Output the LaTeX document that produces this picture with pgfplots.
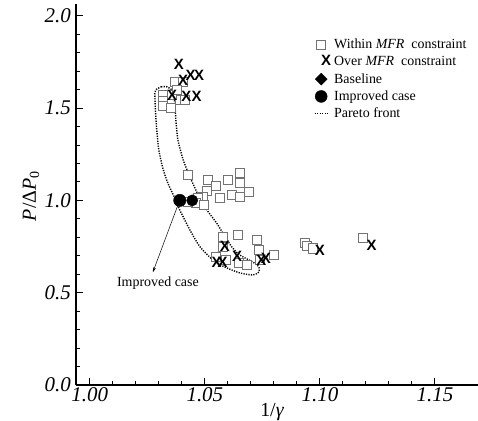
\documentclass[border=0pt]{standalone}
\usepackage{fontspec}
\setmainfont{Liberation Serif}
\setsansfont{Liberation Sans}
\usepackage{pgfplots}
\usepackage{pgfplotstable}
\pgfplotsset{compat=1.18}
\usetikzlibrary{arrows.meta}

\definecolor{sqgray}{gray}{0.45}

% within-constraint designs
\pgfplotstableread{
x y
1.0370 1.643
1.0403 1.643
1.0319 1.571
1.0319 1.540
1.0319 1.511
1.0351 1.499
1.0391 1.544
1.0413 1.544
1.0355 1.570
1.0378 1.598
1.0426 1.138
1.0513 1.111
1.0548 1.078
1.0600 1.111
1.0652 1.148
1.0652 1.094
1.0509 1.051
1.0491 1.018
1.0565 1.013
1.0617 1.029
1.0652 1.018
1.0691 1.046
1.0470 1.013
1.0461 0.986
1.0496 0.975
1.0426 0.991
1.0580 0.803
1.0645 0.813
1.0728 0.786
1.0736 0.731
1.0800 0.704
1.0548 0.692
1.0591 0.677
1.0649 0.663
1.0684 0.650
1.0580 0.749
1.0740 0.680
1.0935 0.768
1.0942 0.753
1.0971 0.740
1.1188 0.795
}\withintab

% designs violating the MFR constraint
\pgfplotstableread{
x y
1.0387 1.737
1.0406 1.652
1.0438 1.679
1.0475 1.679
1.0358 1.570
1.0420 1.562
1.0464 1.562
1.0587 0.749
1.0640 0.695
1.0551 0.664
1.0577 0.664
1.0746 0.677
1.0765 0.686
1.1000 0.727
1.1225 0.755
}\overtab

% outline of the Pareto front region
\pgfplotstableread{
x y
1.0312 1.616
1.0290 1.602
1.0283 1.580
1.0285 1.490
1.0291 1.381
1.0300 1.273
1.0317 1.176
1.0339 1.094
1.0365 1.024
1.0391 0.948
1.0435 0.840
1.0478 0.750
1.0535 0.677
1.0587 0.639
1.0652 0.607
1.0709 0.596
1.0735 0.612
1.0735 0.639
1.0709 0.666
1.0652 0.704
1.0617 0.748
1.0578 0.823
1.0551 0.878
1.0514 0.939
1.0478 1.011
1.0435 1.128
1.0406 1.219
1.0383 1.327
1.0374 1.436
1.0370 1.517
1.0362 1.589
1.0348 1.607
1.0334 1.616
1.0312 1.616
}\paretotab

\begin{document}
\begin{tikzpicture}
\useasboundingbox (-76bp,-36bp) rectangle (402bp,385bp);
\begin{axis}[
  at={(0,0)}, anchor=south west,
  scale only axis, width=402bp, height=381bp,
  xmin=0.994, xmax=1.1687, ymin=0, ymax=2.064,
  axis x line*=bottom, axis y line*=left,
  axis line style={line width=1.6bp, -},
  xtick={1.00,1.05,1.10,1.15}, ytick={0,0.5,1.0,1.5,2.0},
  minor x tick num=4, minor y tick num=4,
  major tick length=7bp, minor tick length=4bp,
  tick align=inside,
  every tick/.style={black, line width=1bp},
  /pgf/number format/assume math mode=true,
  xticklabel style={font=\fontsize{21}{21}\selectfont\itshape, inner sep=2bp,
    /pgf/number format/fixed, /pgf/number format/fixed zerofill,
    /pgf/number format/precision=2},
  yticklabel style={font=\fontsize{21}{21}\selectfont\itshape, inner sep=5bp,
    /pgf/number format/fixed, /pgf/number format/fixed zerofill,
    /pgf/number format/precision=1},
  xlabel={1/\textit{γ}},
  xlabel style={at={(axis description cs:0.488,-0.071)}, anchor=center,
    font=\fontsize{20}{20}\selectfont},
  ylabel={\textit{P}/Δ\textit{P}\textsubscript{0}},
  ylabel style={at={(axis description cs:-0.112,0.496)}, anchor=center,
    font=\fontsize{20}{20}\selectfont},
  legend cell align=left,
  legend style={draw=none, fill=none, inner sep=0pt, outer sep=0pt,
    at={(axis description cs:0.592,0.912)}, anchor=north west,
    font=\fontsize{14}{16}\selectfont,
    nodes={inner sep=0pt, text height=11bp, text depth=3bp},
    row sep=3.3bp, column sep=3bp},
  clip=false,
]
% legend entries
\addlegendimage{legend image code/.code={
  \draw[sqgray, fill=white, line width=0.8bp] (1bp,-4.5bp) rectangle (10bp,4.5bp);}}
\addlegendentry{Within \textit{MFR}\ \ constraint}
\addlegendimage{legend image code/.code={
  \node[inner sep=0pt, font=\fontsize{15}{15}\selectfont\sffamily\bfseries] at (5.5bp,0) {X};}}
\addlegendentry{Over \textit{MFR}\ \ constraint}
\addlegendimage{legend image code/.code={
  \fill[black] (5.5bp,-6bp) -- (11.5bp,0) -- (5.5bp,6bp) -- (-0.5bp,0) -- cycle;}}
\addlegendentry{Baseline}
\addlegendimage{legend image code/.code={
  \fill[black] (5.5bp,0) circle (6bp);}}
\addlegendentry{Improved case}
\addlegendimage{legend image code/.code={
  \draw[black, line width=1.4bp, dash pattern=on 1.2bp off 1.3bp] (-1bp,0) -- (13bp,0);}}
\addlegendentry{Pareto front}

% Pareto front outline
\addplot[black, line width=1.4bp, dash pattern=on 1.2bp off 1.3bp, smooth, tension=0.4, forget plot]
  table {\paretotab};

% candidate designs
\addplot[only marks, mark=square*, mark size=4.5bp,
  mark options={draw=sqgray, fill=white, line width=0.8bp}, forget plot]
  table {\withintab};
\addplot[only marks, mark=text,
  text mark={\fontsize{15}{15}\selectfont\sffamily\bfseries X}, forget plot]
  table {\overtab};

% baseline and improved case
\addplot[only marks, mark=*, mark size=5.6bp, black, forget plot]
  coordinates {(1.0445,1.0)};
\addplot[only marks, mark=*, mark size=6.2bp, black, forget plot]
  coordinates {(1.0391,1.0)};

% annotation
\draw[-{Stealth[length=5bp,width=3bp]}, line width=0.5bp]
  (axis cs:1.0383,0.975) -- (axis cs:1.0274,0.611);
\node[font=\fontsize{14}{14}\selectfont] at (axis cs:1.0296,0.552) {Improved case};
\end{axis}
\end{tikzpicture}
\end{document}
